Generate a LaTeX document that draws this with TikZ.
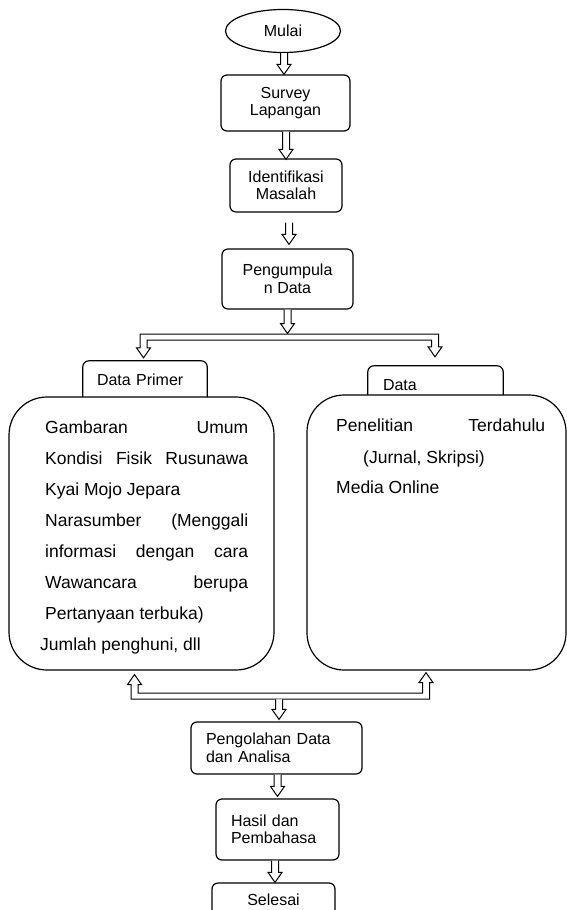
\documentclass[tikz,border=0pt]{standalone}
\usepackage{fontspec}
\setmainfont{Liberation Sans}
\usetikzlibrary{shapes.geometric,calc}
\tikzset{
  box/.style={draw=black, line width=1.2pt, rounded corners=6pt, inner sep=2pt,
    font=\fontsize{16}{17.5}\selectfont, align=center},
  bigbox/.style={draw=black, line width=1.2pt, rounded corners=38pt, inner sep=0pt},
  tabbox/.style={draw=none, inner ysep=0pt, inner xsep=0pt, align=left,
    font=\fontsize{16}{17.5}\selectfont},
  tabline/.style={draw=black, line width=1.2pt, rounded corners=6pt},
  txt/.style={anchor=base west, inner sep=0pt, font=\fontsize{17.5}{19}\selectfont},
  blk/.style={draw=black, line width=1pt, fill=white, line join=miter}
}
\newcommand\dnarrow[2]{%
  \draw[blk] let \p1=#1, \p2=#2 in
   ({\x2-3.5pt},\y1) -- ({\x2-3.5pt},{\y2+10pt}) -- ({\x2-7pt},{\y2+10pt}) -- (\x2,\y2)
   -- ({\x2+7pt},{\y2+10pt}) -- ({\x2+3.5pt},{\y2+10pt}) -- ({\x2+3.5pt},\y1);}
\begin{document}
\begin{tikzpicture}[x=1pt,y=-1pt]
\useasboundingbox[fill=white] (0,0) rectangle (567,910);

% start / process boxes
\node[draw=black, line width=1.2pt, ellipse, minimum width=115pt, minimum height=43pt,
  inner sep=0pt, font=\fontsize{16}{17.5}\selectfont] (mulai) at (283,31) {Mulai};
\node[box, minimum width=129pt, minimum height=56pt] (survey) at (285.5,103) {Survey\\Lapangan};
\node[box, minimum width=112pt, minimum height=53pt] (idn) at (286,185.5) {Identifikasi\\Masalah};
\node[box, minimum width=131pt, minimum height=60pt] (pen) at (287.5,279) {Pengumpula\\n Data};

% tabs
\node[tabbox, minimum width=124pt, minimum height=36pt, text width=96pt, inner xsep=14pt,
  text height=12pt, text depth=0pt] (tabL) at (145,379) {Data Primer};
\draw[tabline] (tabL.south west) -- (tabL.north west) -- (tabL.north east) -- (tabL.south east);
\node[tabbox, minimum width=135pt, minimum height=29pt, text width=105pt, inner xsep=15pt,
  text height=19pt, text depth=0pt] (tabR) at (435.5,380.5) {Data};
\draw[tabline] (tabR.south west) -- (tabR.north west) -- (tabR.north east) -- (tabR.south east);

% big boxes
\node[bigbox, minimum width=265pt, minimum height=273pt] (boxL) at (141.5,533.5) {};
\node[bigbox, rounded corners=37pt, minimum width=259pt, minimum height=275pt] (boxR) at (436.5,532.5) {};

% left box text
\node[txt] (l1) at (45,433) {\makebox[203pt][s]{Gambaran Umum}};
\node[txt] (l2) at (45,464) {\makebox[203pt][s]{Kondisi Fisik Rusunawa}};
\node[txt] (l3) at (45,495) {Kyai Mojo Jepara};
\node[txt] (l4) at (45,526) {\makebox[203pt][s]{Narasumber (Menggali}};
\node[txt] (l5) at (45,557) {\makebox[203pt][s]{informasi dengan cara}};
\node[txt] (l6) at (45,588) {\makebox[203pt][s]{Wawancara berupa}};
\node[txt] (l7) at (45,619) {Pertanyaan terbuka)};
\node[txt] (l8) at (40,650) {Jumlah penghuni, dll};

% right box text
\node[txt] (r1) at (336,431) {\makebox[209pt][s]{Penelitian Terdahulu}};
\node[txt] (r2) at (363,463) {(Jurnal, Skripsi)};
\node[txt] (r3) at (336,493) {Media Online};

% lower boxes
\node[box, minimum width=171pt, minimum height=52pt, align=left, text width=141pt,
  inner xsep=15pt] (prc) at (276.5,748) {Pengolahan Data\\dan Analisa};
\node[box, minimum width=123pt, minimum height=61pt, align=left, text width=93pt,
  inner xsep=15pt] (hsl) at (277.5,829.5) {Hasil dan\\Pembahasa};
\node[box, minimum width=123pt, minimum height=34pt] (sls) at (273.5,900) {Selesai};

% arrows
\dnarrow{(mulai.south)}{($(survey.north)+(-1.5,0)$)}
\dnarrow{(survey.south)}{($(idn.north)+(0,1)$)}
\dnarrow{($(idn.south)+(3,10)$)}{($(pen.north)+(1.5,-4)$)}

% top fork
\coordinate (fL) at (143.5,334);
\coordinate (fR) at (435,334);
\coordinate (tipL) at ($(tabL.north)+(-1.5,-3)$);
\coordinate (tipR) at ($(tabR.north)+(-0.5,-9)$);
\dnarrow{(pen.south)}{($(pen.south |- fL)+(0,-0.5)$)}
\draw[blk] let \p1=(fL), \p2=(fR), \p3=(tipL), \p4=(tipR) in
  ({\x1-3.5pt},\y1) -- ({\x2+3.5pt},\y1) -- ({\x2+3.5pt},{\y4+10pt}) -- ({\x2+7pt},{\y4+10pt})
  -- (\x2,\y4) -- ({\x2-7pt},{\y4+10pt}) -- ({\x2-3.5pt},{\y4+10pt}) -- ({\x2-3.5pt},{\y1-6pt})
  -- ({\x1+3.5pt},{\y1-6pt}) -- ({\x1+3.5pt},{\y3+10pt}) -- ({\x1+7pt},{\y3+10pt})
  -- (\x1,\y3) -- ({\x1-7pt},{\y3+10pt}) -- ({\x1-3.5pt},{\y3+10pt}) -- cycle;

% bottom fork
\coordinate (gL) at (134.5,699);
\coordinate (gR) at (426,699);
\coordinate (upL) at ($(boxL.south)+(0,4)$);
\coordinate (upR) at ($(boxR.south)+(0,2)$);
\draw[blk] let \p1=(gL), \p2=(gR), \p3=(upL), \p4=(upR) in
  ({\x1-3.5pt},\y1) -- ({\x1-3.5pt},{\y3-10pt}) -- ({\x1-7pt},{\y3-10pt}) -- (\x1,\y3)
  -- ({\x1+7pt},{\y3-10pt}) -- ({\x1+3.5pt},{\y3-10pt}) -- ({\x1+3.5pt},{\y1+6pt})
  -- ({\x2-3.5pt},{\y1+6pt}) -- ({\x2-3.5pt},{\y4-10pt}) -- ({\x2-7pt},{\y4-10pt})
  -- (\x2,\y4) -- ({\x2+7pt},{\y4-10pt}) -- ({\x2+3.5pt},{\y4-10pt}) -- ({\x2+3.5pt},\y1) -- cycle;
\dnarrow{($(prc.north)+(2.5,-22)$)}{($(prc.north)+(2.5,-2)$)}
\dnarrow{(prc.south)}{($(hsl.north)+(0,-2)$)}
\dnarrow{(hsl.south)}{($(sls.north)+(1.5,0)$)}
\end{tikzpicture}
\end{document}
